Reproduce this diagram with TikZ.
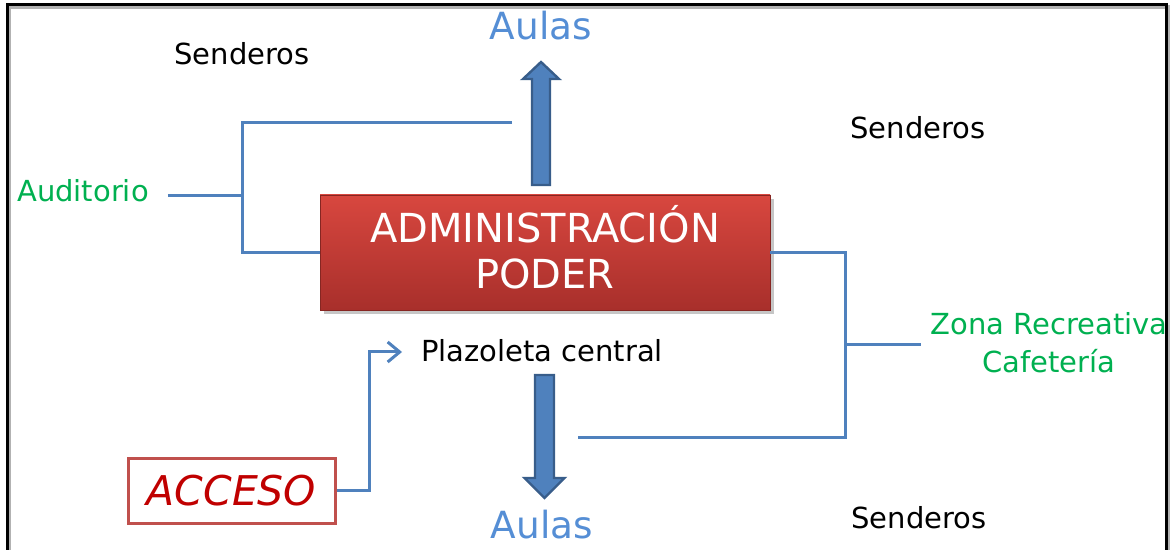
\documentclass[tikz,border=0pt]{standalone}
\usepackage{fontspec}
\setmainfont{DejaVu Sans}
\usetikzlibrary{calc,arrows.meta,shadows,positioning}

\definecolor{linkblue}{HTML}{4F81BD}
\definecolor{arrowedge}{HTML}{385D8A}
\definecolor{aulasblue}{HTML}{558ED5}
\definecolor{zonegreen}{HTML}{00B050}
\definecolor{accred}{HTML}{C00000}
\definecolor{accedge}{HTML}{C0504D}
\definecolor{admintop}{HTML}{D8473F}
\definecolor{adminbot}{HTML}{A82F2B}

\begin{document}
\begin{tikzpicture}
      [
        x=0.5pt, y=-0.5pt,
        link/.style={draw=linkblue, line width=1.5pt},
        arrowlink/.style={link, -{Straight Barb[length=6pt,width=10pt]}},
        blockarrow/.style={fill=linkblue, draw=arrowedge, line width=1.2pt},
        plain/.style={anchor=base, font=\fontsize{14.5}{17}\selectfont},
        zone/.style={plain, text=zonegreen},
        aulas/.style={anchor=base, text=aulasblue, font=\fontsize{18.7}{22}\selectfont},
        adminbox/.style={draw=adminbot!80!black, top color=admintop, bottom color=adminbot,
          minimum width=225pt, minimum height=57.5pt, align=center, text=white,
          font=\fontsize{20}{23}\selectfont, text depth=6pt,
          drop shadow={opacity=0.45, shadow xshift=2pt, shadow yshift=-2pt}},
        accbox/.style={draw=accedge, line width=1.5pt, minimum width=103.5pt,
          minimum height=32.5pt, text=accred, font=\fontsize{20.5}{24}\selectfont\itshape}
      ]

      \useasboundingbox (0,0) rectangle (1172,550);
      % frame
      \draw[line width=1.6pt, gray!60] (9,550) -- (9,7) -- (1168,7) -- (1168,550);
      \draw[line width=1.5pt] (7,550) -- (7,5) -- (1166,5) -- (1166,550);

      \node (admin) [adminbox] at (545,252.5) {ADMINISTRACIÓN\\PODER};
      \node (acceso) [accbox] at (231.5,490.5) {ACCESO};

      \node (aulasup) [aulas] at (541,40) {Aulas};
      \node (aulasdn) [aulas] at (542,538) {Aulas};
      \node (plaza) [plain] at (542,362) {Plazoleta central};
      \node (sendA) [plain] at (242,65) {Senderos};
      \node (sendB) [plain] at (918,139) {Senderos};
      \node (sendC) [plain] at (919,528) {Senderos};
      \node (audit) [zone] at (83,202) {Auditorio};
      \node (zona) [zone] at (1049,335) {Zona Recreativa};
      \node (cafe) [zone] at (1049,372) {Cafetería};

      % block arrows
      \coordinate (upfoot) at (541,185);
      \coordinate (uptip) at (541,62);
      \filldraw[blockarrow] ($(upfoot)+(-9,0)$) -- ($(uptip)+(-9,17)$)
        -- ($(uptip)+(-18,17)$) -- (uptip) -- ($(uptip)+(18,17)$)
        -- ($(uptip)+(9,17)$) -- ($(upfoot)+(9,0)$) -- cycle;

      \coordinate (dnfoot) at (544.5,375);
      \coordinate (dntip) at (544.5,498);
      \filldraw[blockarrow] ($(dnfoot)+(-9.5,0)$) -- ($(dntip)+(-9.5,-20)$)
        -- ($(dntip)+(-20,-20)$) -- (dntip) -- ($(dntip)+(20,-20)$)
        -- ($(dntip)+(9.5,-20)$) -- ($(dnfoot)+(9.5,0)$) -- cycle;

      % connectors
      \coordinate (lt) at (512,123);
      \coordinate (lbar) at (242,196);
      \draw[link] (lt) -| (lbar) |- (admin.west);
      \draw[link] ([xshift=6pt]lbar -| audit.east) -- (lbar);

      \coordinate (rbar) at (845,345);
      \coordinate (rb) at (578,437);
      \coordinate (zl) at (921,345);
      \draw[link] (admin.east) -| (rbar) |- (rb);
      \draw[link] (rbar) -- (zl);

      \coordinate (ajoint) at (369,352);
      \coordinate (atip) at (402,352);
      \draw[arrowlink] (acceso.east) -| (ajoint) -- (atip);

    \end{tikzpicture}
\end{document}
